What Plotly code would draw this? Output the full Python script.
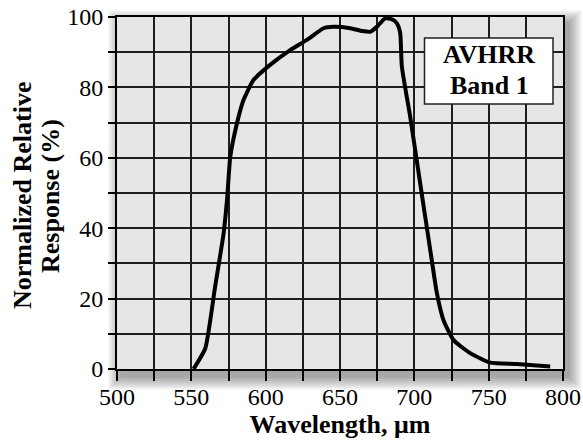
import plotly.graph_objects as go

wavelength = [551.5, 559.4, 566.0, 571.7, 574.0, 576.2, 580.7, 585.1, 591.8, 603.0,
              616.5, 627.8, 638.9, 645.7, 656.9, 665.0, 670.3, 674.8, 680.4, 685.0,
              688.3, 690.5, 691.6, 697.2, 703.9, 710.7, 715.2, 719.6, 726.4, 737.6,
              751.0, 769.0, 791.4]
response = [0.0, 5.9, 23.4, 38.5, 48.0, 60.3, 69.8, 76.4, 82.1, 86.4,
            90.6, 93.5, 96.8, 97.2, 96.8, 96.0, 95.8, 97.2, 99.6, 99.3,
            98.2, 95.4, 85.9, 71.7, 52.8, 33.8, 21.5, 13.9, 8.2, 4.5,
            1.8, 1.4, 0.7]

x_title = "Wavelength, \u03bcm"
y_title_lines = ["Normalized Relative", "Response (%)"]
box_lines = ["AVHRR", "Band 1"]

W, H = 583, 446
L, R, T, B = 117, 20, 17, 77
PW, PH = W - L - R, H - T - B

FONT = "Liberation Serif"
GRID = "#1e1e1e"
BG = "#e6e6e6"


def px_x(p):  # pixel -> paper x
    return (p - L) / PW


def px_y(p):  # pixel -> paper y
    return (H - B - p) / PH


fig = go.Figure()
fig.add_trace(go.Scatter(x=wavelength, y=response, mode="lines",
                         line=dict(color="black", width=4, shape="spline", smoothing=0.5),
                         showlegend=False, hoverinfo="skip"))

# soft drop shadow behind the plot area
shapes = []
for i in range(1, 15):
    dx0, dy0 = 5, 7
    shapes.append(dict(type="rect", xref="paper", yref="paper", layer="below",
                       x0=(-i + dx0) / PW, x1=1 + (i + dx0) / PW,
                       y0=(-i - dy0) / PH, y1=1 + (i - dy0) / PH,
                       fillcolor="rgba(0,0,0,0.028)", line=dict(width=0)))
# plot-area fill on top of the shadow
shapes.append(dict(type="rect", xref="paper", yref="paper", layer="below",
                   x0=0, x1=1, y0=0, y1=1, fillcolor=BG, line=dict(width=0)))
# label box
shapes.append(dict(type="rect", xref="paper", yref="paper", layer="above",
                   x0=px_x(424.5), x1=px_x(553), y0=px_y(104), y1=px_y(38),
                   fillcolor="white", line=dict(color="#222222", width=1.5)))

fig.update_layout(
    width=W, height=H,
    margin=dict(l=L, r=R, t=T, b=B, autoexpand=False),
    paper_bgcolor="white", plot_bgcolor="rgba(0,0,0,0)",
    shapes=shapes,
    font=dict(family=FONT, color="black", size=24),
    xaxis=dict(range=[500, 800], dtick=50, tick0=500, showgrid=True, gridcolor=GRID,
               gridwidth=1.5, ticks="outside", ticklen=10, tickwidth=1.5, tickcolor="black",
               minor=dict(dtick=25, showgrid=True, gridcolor=GRID, gridwidth=1.5,
                          ticks="outside", ticklen=10, tickwidth=1.5, tickcolor="black"),
               showline=True, linecolor="black", linewidth=2, mirror=True, zeroline=False,
               automargin=False, ticklabelstandoff=-5,
               tickfont=dict(size=24, family=FONT),
               title=dict(text="<b>" + x_title + "</b>", font=dict(size=26, family=FONT),
                          standoff=4)),
    yaxis=dict(range=[0, 100], dtick=20, tick0=0, showgrid=True, gridcolor=GRID,
               gridwidth=1.5, ticks="outside", ticklen=7, tickwidth=1.5, tickcolor="black",
               minor=dict(dtick=10, showgrid=True, gridcolor=GRID, gridwidth=1.5,
                          ticks="outside", ticklen=7, tickwidth=1.5, tickcolor="black"),
               showline=True, linecolor="black", linewidth=2, mirror=True, zeroline=False,
               automargin=False,
               tickfont=dict(size=24, family=FONT)),
)

# y title as two rotated lines
for xpx, txt in [(22, y_title_lines[0]), (50, y_title_lines[1])]:
    fig.add_annotation(xref="paper", yref="paper", x=px_x(xpx), y=px_y(196),
                       text="<b>" + txt + "</b>", textangle=-90, showarrow=False,
                       xanchor="center", yanchor="middle",
                       font=dict(size=26, family=FONT, color="black"))

# box text
for ypx, txt in [(54.7, box_lines[0]), (85.7, box_lines[1])]:
    fig.add_annotation(xref="paper", yref="paper", x=px_x(489), y=px_y(ypx),
                       text="<b>" + txt + "</b>", showarrow=False,
                       xanchor="center", yanchor="middle",
                       font=dict(size=26, family=FONT, color="black"))

fig.write_html("out.html")
